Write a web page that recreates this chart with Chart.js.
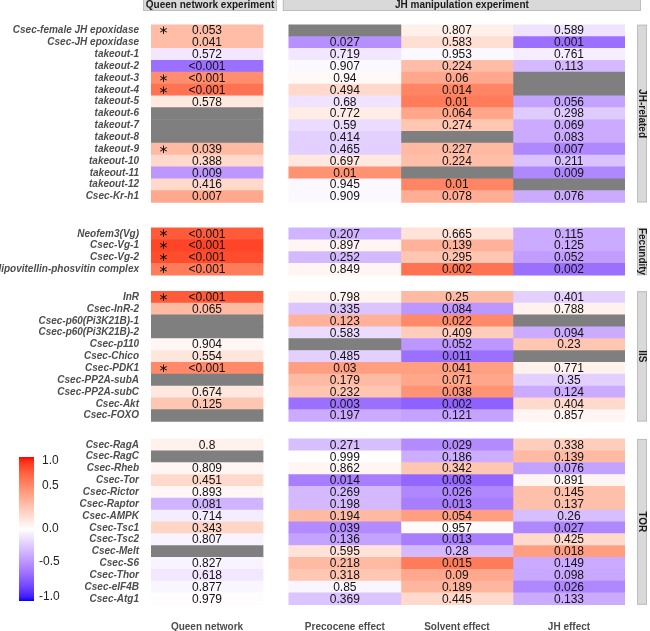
<!DOCTYPE html>
<html>
<head>
<meta charset="utf-8">
<script src="https://cdn.jsdelivr.net/npm/chart.js@4.4.1/dist/chart.umd.min.js"></script>
<style>
  html, body { margin: 0; padding: 0; background: #fff; }
  #wrap { width: 650px; height: 631px; position: relative; }
</style>
</head>
<body>
<div id="wrap"><canvas id="heatmap" width="650" height="631"></canvas></div>
<script>
// Column and facet labels
const columns = ['Queen network', 'Precocene effect', 'Solvent effect', 'JH effect'];
const sectionNames = ['JH-related', 'Fecundity', 'IIS', 'TOR'];

// Gene names per facet
const genesJH = ['Csec-female JH epoxidase', 'Csec-JH epoxidase', 'takeout-1', 'takeout-2', 'takeout-3',
    'takeout-4', 'takeout-5', 'takeout-6', 'takeout-7', 'takeout-8', 'takeout-9', 'takeout-10',
    'takeout-11', 'takeout-12', 'Csec-Kr-h1'];
const genesFec = ['Neofem3(Vg)', 'Csec-Vg-1', 'Csec-Vg-2', 'lipovitellin-phosvitin complex'];
const genesIIS = ['InR', 'Csec-InR-2', 'Csec-p60(Pi3K21B)-1', 'Csec-p60(Pi3K21B)-2', 'Csec-p110',
    'Csec-Chico', 'Csec-PDK1', 'Csec-PP2A-subA', 'Csec-PP2A-subC', 'Csec-Akt', 'Csec-FOXO'];
const genesTOR = ['Csec-RagA', 'Csec-RagC', 'Csec-Rheb', 'Csec-Tor', 'Csec-Rictor', 'Csec-Raptor',
    'Csec-AMPK', 'Csec-Tsc1', 'Csec-Tsc2', 'Csec-Melt', 'Csec-S6', 'Csec-Thor', 'Csec-eIF4B', 'Csec-Atg1'];

// Fill values (-1..1), one row per gene: [queen, precocene, solvent, JH]; null = no data (grey)
const fillJH = [
    [0.35, null, 0.08, -0.12],
    [0.35, -0.48, 0.17, -0.62],
    [-0.10, -0.10, -0.03, -0.07],
    [-0.62, -0.03, 0.35, -0.30],
    [0.58, 0.03, 0.45, null],
    [0.70, 0.20, 0.62, null],
    [0.12, -0.12, 0.66, -0.40],
    [null, 0.10, 0.46, -0.22],
    [null, -0.15, 0.30, -0.36],
    [null, -0.20, null, -0.36],
    [0.36, -0.20, 0.36, -0.52],
    [0.20, 0.12, 0.34, -0.26],
    [-0.45, 0.56, null, -0.52],
    [0.20, -0.03, 0.62, null],
    [0.45, -0.03, 0.42, -0.36]
];
const fillFec = [
    [0.80, -0.32, 0.15, -0.36],
    [0.88, 0.05, 0.40, -0.36],
    [0.85, -0.30, 0.30, -0.42],
    [0.66, 0.05, 0.70, -0.62]
];
const fillIIS = [
    [0.80, 0.06, 0.36, -0.20],
    [0.36, -0.25, -0.45, 0.07],
    [null, 0.40, 0.60, null],
    [null, -0.15, 0.26, -0.36],
    [0.04, null, -0.45, 0.30],
    [0.13, -0.20, -0.62, null],
    [0.60, 0.50, 0.50, 0.07],
    [null, 0.36, 0.46, -0.20],
    [0.12, 0.30, 0.55, -0.36],
    [0.30, -0.62, -0.68, 0.20],
    [null, -0.36, -0.40, 0.05]
];
const fillTOR = [
    [0.07, -0.28, -0.50, 0.26],
    [null, 0.00, -0.35, 0.36],
    [0.05, 0.05, 0.30, -0.40],
    [0.20, -0.56, -0.66, 0.05],
    [0.04, -0.30, -0.52, 0.33],
    [-0.32, -0.30, -0.56, 0.33],
    [-0.08, 0.36, 0.50, -0.28],
    [0.22, -0.50, 0.02, -0.52],
    [-0.05, -0.40, -0.56, 0.20],
    [null, 0.15, -0.30, 0.50],
    [-0.05, 0.36, 0.66, -0.36],
    [-0.10, 0.30, 0.45, -0.38],
    [-0.04, -0.04, 0.38, -0.52],
    [0.01, -0.25, 0.20, -0.36]
];

// P-value labels, same layout ('' = no label)
const pJH = [
    ['0.053', '', '0.807', '0.589'],
    ['0.041', '0.027', '0.583', '0.001'],
    ['0.572', '0.719', '0.953', '0.761'],
    ['<0.001', '0.907', '0.224', '0.113'],
    ['<0.001', '0.94', '0.06', ''],
    ['<0.001', '0.494', '0.014', ''],
    ['0.578', '0.68', '0.01', '0.056'],
    ['', '0.772', '0.064', '0.298'],
    ['', '0.59', '0.274', '0.069'],
    ['', '0.414', '', '0.083'],
    ['0.039', '0.465', '0.227', '0.007'],
    ['0.388', '0.697', '0.224', '0.211'],
    ['0.009', '0.01', '', '0.009'],
    ['0.416', '0.945', '0.01', ''],
    ['0.007', '0.909', '0.078', '0.076']
];
const pFec = [
    ['<0.001', '0.207', '0.665', '0.115'],
    ['<0.001', '0.897', '0.139', '0.125'],
    ['<0.001', '0.252', '0.295', '0.052'],
    ['<0.001', '0.849', '0.002', '0.002']
];
const pIIS = [
    ['<0.001', '0.798', '0.25', '0.401'],
    ['0.065', '0.335', '0.084', '0.788'],
    ['', '0.123', '0.022', ''],
    ['', '0.583', '0.409', '0.094'],
    ['0.904', '', '0.052', '0.23'],
    ['0.554', '0.485', '0.011', ''],
    ['<0.001', '0.03', '0.041', '0.771'],
    ['', '0.179', '0.071', '0.35'],
    ['0.674', '0.232', '0.038', '0.124'],
    ['0.125', '0.003', '0.002', '0.404'],
    ['', '0.197', '0.121', '0.857']
];
const pTOR = [
    ['0.8', '0.271', '0.029', '0.338'],
    ['', '0.999', '0.186', '0.139'],
    ['0.809', '0.862', '0.342', '0.076'],
    ['0.451', '0.014', '0.003', '0.891'],
    ['0.893', '0.269', '0.026', '0.145'],
    ['0.081', '0.198', '0.013', '0.137'],
    ['0.714', '0.194', '0.054', '0.26'],
    ['0.343', '0.039', '0.957', '0.027'],
    ['0.807', '0.136', '0.013', '0.425'],
    ['', '0.595', '0.28', '0.018'],
    ['0.827', '0.218', '0.015', '0.149'],
    ['0.618', '0.318', '0.09', '0.098'],
    ['0.877', '0.85', '0.189', '0.026'],
    ['0.979', '0.369', '0.445', '0.133']
];

// Asterisks in the queen network column
const starJH = [1, 0, 0, 0, 1, 1, 0, 0, 0, 0, 1, 0, 0, 0, 0];
const starFec = [1, 1, 1, 1];
const starIIS = [1, 0, 0, 0, 0, 0, 1, 0, 0, 0, 0];
const starTOR = [0, 0, 0, 0, 0, 0, 0, 0, 0, 0, 0, 0, 0, 0];

// Colour legend ticks
const legendTicks = ['1.0', '0.5', '0.0', '-0.5', '-1.0'];

// ---- layout (in axis units) ----
const colLeft = [0, 1.23, 2.23, 3.23];
const sectionTop = [0, 17.15, 22.5, 34.97];
const Y_MAX = 48.97;
const X_MAX = 4.23;

const sections = [
    { genes: genesJH, fill: fillJH, p: pJH, star: starJH },
    { genes: genesFec, fill: fillFec, p: pFec, star: starFec },
    { genes: genesIIS, fill: fillIIS, p: pIIS, star: starIIS },
    { genes: genesTOR, fill: fillTOR, p: pTOR, star: starTOR }
];

// ---- colour scale: blue - white - red, interpolated in Lab ----
function toLin(c) { c /= 255; return c <= 0.04045 ? c / 12.92 : Math.pow((c + 0.055) / 1.055, 2.4); }
function fromLin(c) {
    const v = c <= 0.0031308 ? 12.92 * c : 1.055 * Math.pow(c, 1 / 2.4) - 0.055;
    return Math.round(Math.max(0, Math.min(1, v)) * 255);
}
function rgbToLab(rgb) {
    const r = toLin(rgb[0]), g = toLin(rgb[1]), b = toLin(rgb[2]);
    const f = t => t > 0.008856 ? Math.cbrt(t) : 7.787 * t + 16 / 116;
    const x = f((0.4124 * r + 0.3576 * g + 0.1805 * b) / 0.95047);
    const y = f(0.2126 * r + 0.7152 * g + 0.0722 * b);
    const z = f((0.0193 * r + 0.1192 * g + 0.9505 * b) / 1.08883);
    return [116 * y - 16, 500 * (x - y), 200 * (y - z)];
}
function labToRgb(lab) {
    const fy = (lab[0] + 16) / 116, fx = lab[1] / 500 + fy, fz = fy - lab[2] / 200;
    const fi = t => t * t * t > 0.008856 ? t * t * t : (t - 16 / 116) / 7.787;
    const x = fi(fx) * 0.95047, y = fi(fy), z = fi(fz) * 1.08883;
    return [
        fromLin(3.2406 * x - 1.5372 * y - 0.4986 * z),
        fromLin(-0.9689 * x + 1.8758 * y + 0.0415 * z),
        fromLin(0.0557 * x - 0.2040 * y + 1.0570 * z)
    ];
}
const LAB_RED = rgbToLab([255, 0, 0]);
const LAB_WHITE = rgbToLab([255, 255, 255]);
const LAB_BLUE = rgbToLab([0, 0, 255]);

function fillColor(v) {
    if (v === null) return '#7f7f7f';
    const end = v >= 0 ? LAB_RED : LAB_BLUE;
    const t = Math.min(1, Math.abs(v));
    const lab = [0, 1, 2].map(i => LAB_WHITE[i] + (end[i] - LAB_WHITE[i]) * t);
    const c = labToRgb(lab);
    return `rgb(${c[0]},${c[1]},${c[2]})`;
}

// ---- build datasets (one per column) ----
const rowCenters = [];
const rowNames = [];
sections.forEach((sec, s) => {
    sec.genes.forEach((g, r) => {
        rowCenters.push(sectionTop[s] + r + 0.5);
        rowNames.push(g);
    });
});

const datasets = columns.map((col, c) => {
    const data = [];
    const colors = [];
    sections.forEach((sec, s) => {
        sec.fill.forEach((row, r) => {
            data.push({ y: sectionTop[s] + r + 0.5, x: [colLeft[c], colLeft[c] + 1] });
            colors.push(fillColor(row[c]));
        });
    });
    return {
        label: col,
        data: data,
        backgroundColor: colors,
        borderWidth: 0,
        grouped: false,
        barPercentage: 1,
        categoryPercentage: 1
    };
});

// p-value text and asterisks
const cellText = {
    id: 'cellText',
    afterDatasetsDraw(chart) {
        const { ctx } = chart;
        const xs = chart.scales.x, ys = chart.scales.y;
        ctx.save();
        ctx.textAlign = 'center';
        ctx.textBaseline = 'middle';
        sections.forEach((sec, s) => {
            sec.p.forEach((row, r) => {
                const py = ys.getPixelForValue(sectionTop[s] + r + 0.5);
                ctx.font = '12px "Liberation Sans", Arial, sans-serif';
                ctx.fillStyle = '#111';
                row.forEach((label, c) => {
                    if (!label) return;
                    ctx.fillText(label, xs.getPixelForValue(colLeft[c] + 0.5), py + 0.5);
                });
                if (sec.star[r]) {
                    ctx.font = '12px "DejaVu Sans", sans-serif';
                    ctx.fillText('\u2217', xs.getPixelForValue(0.11), py + 0.5);
                }
            });
        });
        ctx.restore();
    }
};

// facet strips and colour legend
const decorations = {
    id: 'decorations',
    afterDraw(chart) {
        const { ctx, chartArea } = chart;
        const xs = chart.scales.x, ys = chart.scales.y;
        ctx.save();

        // top strips
        const strips = [
            ['Queen network experiment', xs.getPixelForValue(0) - 8, xs.getPixelForValue(1) + 14],
            ['JH manipulation experiment', xs.getPixelForValue(colLeft[1]) - 6, xs.getPixelForValue(X_MAX) + 16]
        ];
        strips.forEach(([txt, l, r]) => {
            ctx.fillStyle = '#d9d9d9';
            ctx.fillRect(l, 0, r - l, 10.5);
            ctx.strokeStyle = '#bdbdbd';
            ctx.lineWidth = 1;
            ctx.strokeRect(l + 0.5, -0.5, r - l - 1, 11);
            ctx.fillStyle = '#1a1a1a';
            ctx.font = 'bold 10px "Liberation Sans", Arial, sans-serif';
            ctx.textAlign = 'center';
            ctx.textBaseline = 'middle';
            ctx.fillText(txt, (l + r) / 2, 5.5);
        });

        // right strips
        sections.forEach((sec, s) => {
            const top = ys.getPixelForValue(sectionTop[s]);
            const bot = ys.getPixelForValue(sectionTop[s] + sec.genes.length);
            const l = chartArea.right + 12;
            ctx.fillStyle = '#d9d9d9';
            ctx.fillRect(l, top, 10, bot - top);
            ctx.strokeStyle = '#bdbdbd';
            ctx.strokeRect(l + 0.5, top + 0.5, 9, bot - top - 1);
            ctx.save();
            ctx.translate(l + 5, (top + bot) / 2);
            ctx.rotate(Math.PI / 2);
            ctx.fillStyle = '#1a1a1a';
            ctx.font = 'bold 10px "Liberation Sans", Arial, sans-serif';
            ctx.textAlign = 'center';
            ctx.textBaseline = 'middle';
            ctx.fillText(sectionNames[s], 0, 0);
            ctx.restore();
        });

        // colour bar
        const barX = 19, barW = 15, barTop = 457, barBot = 601;
        const grad = ctx.createLinearGradient(0, barTop, 0, barBot);
        for (let i = 0; i <= 40; i++) {
            grad.addColorStop(i / 40, fillColor(1 - i / 20));
        }
        ctx.fillStyle = grad;
        ctx.fillRect(barX, barTop, barW, barBot - barTop);
        const tickY = [460.5, 485.5, 529, 561.5, 597];
        ctx.fillStyle = '#222';
        ctx.font = '12px "Liberation Sans", Arial, sans-serif';
        ctx.textAlign = 'left';
        ctx.textBaseline = 'middle';
        legendTicks.forEach((t, i) => {
            ctx.fillText(t, t.startsWith('-') ? 39 : 42, tickY[i]);
        });
        ctx.restore();
    }
};

document.addEventListener('DOMContentLoaded', () => {
    const canvas = document.getElementById('heatmap');
    new Chart(canvas, {
        type: 'bar',
        data: { datasets: datasets },
        options: {
            indexAxis: 'y',
            responsive: false,
            animation: false,
            layout: { padding: { left: 0, right: 25, top: 11.5, bottom: 0 } },
            plugins: {
                legend: { display: false },
                tooltip: { enabled: false }
            },
            scales: {
                x: {
                    type: 'linear',
                    position: 'bottom',
                    min: 0,
                    max: X_MAX,
                    grid: { display: false, drawTicks: false },
                    border: { display: false },
                    afterBuildTicks: s => { s.ticks = colLeft.map(v => ({ value: v + 0.5 })); },
                    afterFit: s => { s.height = 19.5; },
                    ticks: {
                        autoSkip: false,
                        maxRotation: 0,
                        padding: 10,
                        color: '#4d4d4d',
                        font: { family: '"Liberation Sans", Arial, sans-serif', size: 10, weight: 'bold' },
                        callback: (v, i) => columns[i]
                    }
                },
                y: {
                    type: 'linear',
                    min: 0,
                    max: Y_MAX,
                    reverse: true,
                    grid: { display: false, drawTicks: false },
                    border: { display: false },
                    afterBuildTicks: s => { s.ticks = rowCenters.map(v => ({ value: v })); },
                    afterFit: s => { s.width = 151; },
                    ticks: {
                        autoSkip: false,
                        padding: 12,
                        color: '#4d4d4d',
                        font: { family: '"Liberation Sans", Arial, sans-serif', size: 10, weight: 'bold', style: 'italic' },
                        callback: (v, i) => rowNames[i]
                    }
                }
            }
        },
        plugins: [cellText, decorations]
    });
});
</script>
</body>
</html>
